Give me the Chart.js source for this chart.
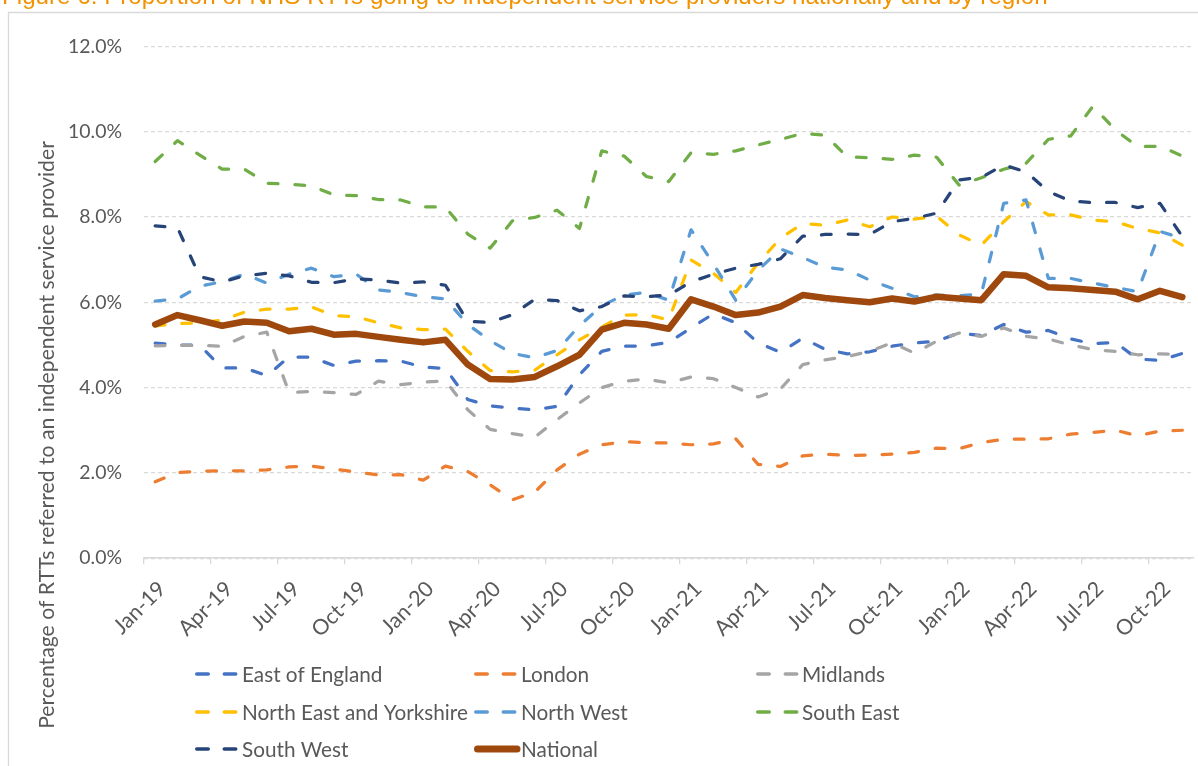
<!DOCTYPE html>
<html>
<head>
<meta charset="utf-8">
<script src="https://cdn.jsdelivr.net/npm/chart.js@4.4.1/dist/chart.umd.min.js"></script>
<style>
html,body{margin:0;padding:0;background:#fff;overflow:hidden;width:1198px;height:766px;}
#c{position:absolute;left:0;top:0;}
</style>
</head>
<body>
<canvas id="c" width="1198" height="766"></canvas>
<script>
const figureTitle = 'Figure 6: Proportion of NHS RTTs going to independent service providers nationally and by region';
const yAxisTitle = 'Percentage of RTTs referred to an independent service provider';

const categories = [
  'Jan-19','Feb-19','Mar-19','Apr-19','May-19','Jun-19','Jul-19','Aug-19','Sep-19','Oct-19','Nov-19','Dec-19',
  'Jan-20','Feb-20','Mar-20','Apr-20','May-20','Jun-20','Jul-20','Aug-20','Sep-20','Oct-20','Nov-20','Dec-20',
  'Jan-21','Feb-21','Mar-21','Apr-21','May-21','Jun-21','Jul-21','Aug-21','Sep-21','Oct-21','Nov-21','Dec-21',
  'Jan-22','Feb-22','Mar-22','Apr-22','May-22','Jun-22','Jul-22','Aug-22','Sep-22','Oct-22','Nov-22'
];

const seriesNames = ['East of England','London','Midlands','North East and Yorkshire','North West','South East','South West','National'];

const eastOfEngland = [5.04,5.00,4.99,4.46,4.46,4.28,4.72,4.71,4.52,4.62, 4.63,4.62,4.48,4.45,3.72,3.57,3.52,3.48,3.56,4.30, 4.85,4.97,4.98,5.06,5.40,5.73,5.52,5.05,4.83,5.16, 4.90,4.79,4.84,4.97,5.05,5.09,5.28,5.22,5.48,5.30, 5.34,5.14,5.03,5.06,4.67,4.64,4.80];
const london = [1.79,2.01,2.04,2.05,2.05,2.07,2.14,2.16,2.09,2.02, 1.95,1.96,1.83,2.16,2.03,1.72,1.37,1.55,2.07,2.44, 2.66,2.73,2.71,2.70,2.66,2.68,2.80,2.20,2.15,2.40, 2.44,2.41,2.42,2.44,2.48,2.58,2.57,2.71,2.79,2.79, 2.80,2.91,2.95,3.00,2.87,2.98,3.00];
const midlands = [4.98,4.99,4.99,4.97,5.20,5.30,3.88,3.91,3.88,3.84, 4.15,4.07,4.13,4.16,3.48,3.02,2.92,2.84,3.25,3.64, 4.00,4.15,4.20,4.11,4.25,4.21,4.00,3.78,3.97,4.54, 4.65,4.73,4.85,5.05,4.81,5.09,5.28,5.20,5.40,5.20, 5.14,5.00,4.89,4.85,4.77,4.79,4.77];
const northEastYorkshire = [5.45,5.50,5.52,5.58,5.77,5.84,5.84,5.89,5.69,5.66, 5.52,5.40,5.36,5.37,4.85,4.40,4.37,4.41,4.77,5.12, 5.42,5.70,5.71,5.59,6.99,6.68,6.23,6.92,7.50,7.85, 7.81,7.93,7.77,8.00,7.95,8.02,7.58,7.34,7.89,8.36, 8.05,8.05,7.93,7.89,7.73,7.63,7.34];
const northWest = [6.03,6.08,6.38,6.48,6.66,6.45,6.66,6.80,6.60,6.66, 6.29,6.23,6.13,6.08,5.48,5.10,4.80,4.70,4.87,5.45, 5.92,6.17,6.23,6.05,7.70,6.90,6.05,6.75,7.25,7.05, 6.82,6.76,6.52,6.33,6.13,6.17,6.15,6.20,8.32,8.40, 6.56,6.56,6.45,6.35,6.25,7.66,7.50];
const southEast = [9.30,9.79,9.45,9.12,9.12,8.79,8.77,8.73,8.52,8.50, 8.41,8.40,8.24,8.23,7.60,7.27,7.91,7.99,8.16,7.73, 9.55,9.43,8.95,8.83,9.51,9.47,9.55,9.69,9.82,9.96, 9.92,9.41,9.39,9.35,9.45,9.40,8.75,8.92,9.12,9.26, 9.82,9.90,10.60,10.04,9.65,9.66,9.43];
const southWest = [7.79,7.75,6.60,6.48,6.62,6.68,6.62,6.47,6.46,6.55, 6.52,6.45,6.48,6.40,5.55,5.53,5.71,6.07,6.04,5.80, 5.90,6.15,6.13,6.17,6.48,6.66,6.80,6.89,7.02,7.55, 7.59,7.60,7.59,7.89,7.97,8.09,8.87,8.93,9.22,9.06, 8.60,8.37,8.34,8.34,8.22,8.32,7.54];
const national = [5.48,5.70,5.58,5.45,5.55,5.52,5.32,5.38,5.24,5.26, 5.19,5.12,5.06,5.12,4.54,4.20,4.19,4.25,4.50,4.77, 5.36,5.52,5.48,5.38,6.07,5.90,5.70,5.76,5.90,6.17, 6.10,6.05,6.00,6.09,6.02,6.13,6.09,6.05,6.66,6.62, 6.35,6.33,6.29,6.25,6.07,6.27,6.12];

const yTicks = {min: 0, max: 12, step: 2};

const seriesValues = [eastOfEngland, london, midlands, northEastYorkshire, northWest, southEast, southWest, national];
const seriesColors = ['#4472C4','#ED7D31','#A5A5A5','#FFC000','#5B9BD5','#70AD47','#264478','#9E480E'];

const FAMILY = 'Lato, "Noto Sans", sans-serif';
const TEXT = '#595959';
const GRID = '#D9D9D9';

function fitSize(text, target, family) {
  const c = document.createElement('canvas').getContext('2d');
  c.font = '100px ' + family;
  return 100 * target / c.measureText(text).width;
}
const legendSize = fitSize('North East and Yorkshire', 226, FAMILY);
const xTickSize = legendSize * 1.03;
const yTickSize = fitSize('12.0%', 54, FAMILY);
const yTitleSize = fitSize(yAxisTitle, 588, FAMILY);
const titleSize = fitSize(figureTitle, 1046, '"Liberation Sans", Arial, sans-serif');

const datasets = seriesNames.map((name, i) => {
  const isNat = name === 'National';
  return {
    label: name,
    data: seriesValues[i],
    borderColor: seriesColors[i],
    backgroundColor: seriesColors[i],
    borderWidth: isNat ? 6.5 : 3.25,
    borderDash: isNat ? [] : [9.75, 17],
    borderCapStyle: 'round',
    borderJoinStyle: 'round',
    pointRadius: 0,
    tension: 0,
    fill: false,
    order: seriesNames.length - i
  };
});

const deco = {
  id: 'deco',
  beforeDraw(chart) {
    const ctx = chart.ctx;
    ctx.save();
    ctx.strokeStyle = GRID;
    ctx.lineWidth = 1.3;
    ctx.beginPath();
    ctx.moveTo(8.5, 800);
    ctx.lineTo(8.5, 12.5);
    ctx.lineTo(1300, 12.5);
    ctx.stroke();
    ctx.restore();
  },
  afterDraw(chart) {
    const ctx = chart.ctx;
    ctx.save();
    // cut-off figure title
    ctx.fillStyle = '#F39200';
    ctx.font = titleSize + 'px "Liberation Sans", Arial, sans-serif';
    ctx.textBaseline = 'alphabetic';
    ctx.textAlign = 'left';
    ctx.fillText(figureTitle, 2, 4);
    // y axis title
    ctx.fillStyle = TEXT;
    ctx.font = yTitleSize + 'px ' + FAMILY;
    ctx.translate(47, 435);
    ctx.rotate(-Math.PI / 2);
    ctx.textAlign = 'center';
    ctx.textBaseline = 'middle';
    ctx.fillText(yAxisTitle, 0, 0);
    ctx.restore();

    // legend grid
    const sampleX = [195, 474, 756];
    const textX = [242, 521, 802];
    const rowY = [674, 712, 749];
    ctx.save();
    ctx.font = legendSize + 'px ' + FAMILY;
    ctx.textBaseline = 'middle';
    ctx.textAlign = 'left';
    chart.data.datasets.forEach((ds, i) => {
      const col = i % 3, row = Math.floor(i / 3);
      const y = rowY[row];
      const x0 = sampleX[col];
      ctx.strokeStyle = ds.borderColor;
      ctx.lineCap = 'round';
      if (ds.borderDash.length) {
        ctx.lineWidth = 3.5;
        ctx.setLineDash([11.5, 16]);
        ctx.beginPath();
        ctx.moveTo(x0 + 1.75, y);
        ctx.lineTo(x0 + 41.25, y);
        ctx.stroke();
      } else {
        ctx.lineWidth = 7;
        ctx.setLineDash([]);
        ctx.beginPath();
        ctx.moveTo(x0 + 3.5, y);
        ctx.lineTo(x0 + 43, y);
        ctx.stroke();
      }
      ctx.setLineDash([]);
      ctx.fillStyle = TEXT;
      ctx.fillText(ds.label, textX[col], y + 1);
    });
    ctx.restore();
  }
};

new Chart(document.getElementById('c'), {
  type: 'line',
  data: { labels: categories, datasets },
  options: {
    responsive: false,
    animation: false,
    events: [],
    layout: { padding: { left: 0, right: 4.5, top: 46.4, bottom: 0 } },
    plugins: { legend: { display: false }, tooltip: { enabled: false } },
    scales: {
      x: {
        type: 'category',
        offset: true,
        grid: {
          offset: true,
          drawOnChartArea: false,
          drawTicks: true,
          tickLength: 6,
          lineWidth: 1.3,
          color: c => (c.index % 3 === 0 ? GRID : 'rgba(0,0,0,0)')
        },
        border: { display: true, color: GRID, width: 1.5 },
        ticks: {
          autoSkip: false,
          minRotation: 45,
          maxRotation: 45,
          color: TEXT,
          padding: 12,
          labelOffset: 7,
          font: { family: FAMILY, size: xTickSize },
          callback: (v, i) => (i % 3 === 0 ? categories[i] : '')
        },
        afterFit: s => {
          s.height = 766 - 558.2;
          s.paddingLeft = 0;
          s.paddingRight = 0;
        }
      },
      y: {
        min: yTicks.min,
        max: yTicks.max,
        ticks: {
          stepSize: yTicks.step,
          color: TEXT,
          padding: 22,
          font: { family: FAMILY, size: yTickSize },
          callback: v => v.toFixed(1) + '%'
        },
        grid: { color: GRID, lineWidth: 1.3, drawTicks: false },
        border: { display: false, dash: [4, 3] },
        afterFit: s => { s.width = 144; }
      }
    }
  },
  plugins: [deco]
});
</script>
</body>
</html>
